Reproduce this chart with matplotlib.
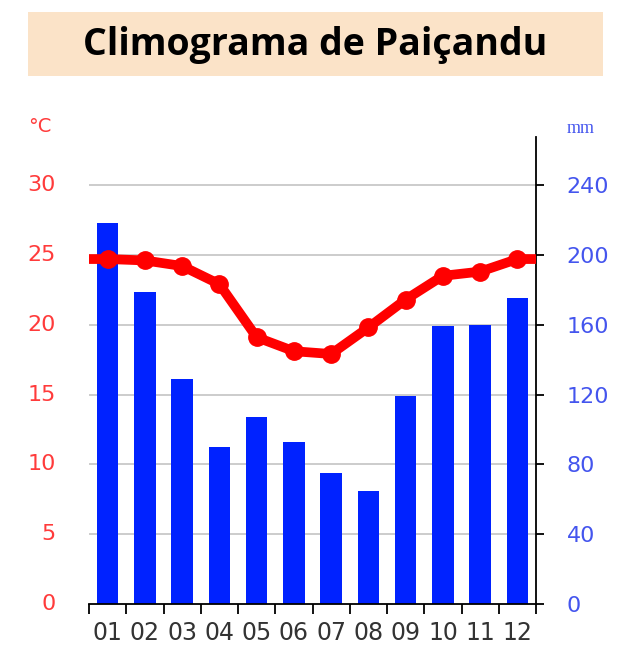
import numpy as np
import matplotlib
matplotlib.use('Agg')
from matplotlib import pyplot as plt
from matplotlib.patches import Rectangle
from matplotlib.transforms import blended_transform_factory

MONTHS = ['01', '02', '03', '04', '05', '06', '07', '08', '09', '10', '11', '12']
TEMP_C = [24.7, 24.6, 24.2, 22.9, 19.1, 18.1, 17.9, 19.8, 21.8, 23.5, 23.8, 24.7]
PRECIP_MM = [218, 179, 129, 90, 107, 93, 75, 65, 119, 159, 160, 175]
TEMP_TICKS = [0, 5, 10, 15, 20, 25, 30]
PRECIP_TICKS = [0, 40, 80, 120, 160, 200, 240]

RED = '#ff0000'
RED_TXT = '#ff3b3b'
BLUE = '#0022ff'
BLUE_TXT = '#4455ee'

fig = plt.figure(figsize=(6.3, 6.67), dpi=100)

# title box
fig.patches.append(Rectangle((0.0444, 0.886), 0.9127, 0.096, transform=fig.transFigure,
                             facecolor='#fbe3c8', edgecolor='none'))
fig.text(0.5008, 0.932, 'Climograma de Paiçandu', ha='center', va='center',
         fontsize=27, fontweight='bold', family='Open Sans', color='black')

rect = [0.1413, 0.0945, 0.7095, 0.7001]
ax2 = fig.add_axes(rect)
ax = ax2.twinx()

x = np.arange(len(MONTHS))
ytop = 33.44

# precipitation bars (bottom layer, with grid)
ax2.bar(x, PRECIP_MM, width=0.58, color=BLUE, zorder=2)
ax2.set_ylim(0, ytop * 8)
ax2.set_xlim(-0.5, len(MONTHS) - 0.5)
ax2.set_yticks(PRECIP_TICKS[1:])
ax2.yaxis.grid(True, color='#c4c4c4', linewidth=1.2)
ax2.set_axisbelow(True)
ax2.tick_params(axis='y', length=0, labelright=False, labelleft=False)

# temperature line on top
ax.set_zorder(ax2.get_zorder() + 1)
ax.patch.set_visible(False)
edge = (TEMP_C[0] + TEMP_C[-1]) / 2
tx = np.concatenate([[-0.5], x, [len(MONTHS) - 0.5]])
ty = np.concatenate([[edge], TEMP_C, [edge]])
ax.plot(tx, ty, color=RED, linewidth=7, solid_joinstyle='round', zorder=3)
ax.plot(x, TEMP_C, 'o', color=RED, markersize=12.5, zorder=4)
ax.set_ylim(0, ytop)
ax.set_xlim(-0.5, len(MONTHS) - 0.5)
ax.set_xticks([])

# right axis: precipitation labels (temp axis scaled by 8)
ax.set_yticks([v / 8 for v in PRECIP_TICKS])
ax.set_yticklabels([str(v) for v in PRECIP_TICKS], fontsize=16)
ax.tick_params(axis='y', direction='out', length=6, width=1.3, pad=16, colors='black')
for lab in ax.get_yticklabels():
    lab.set_color(BLUE_TXT)

# left axis: temperature labels, no spine
trans = blended_transform_factory(fig.transFigure, ax.transData)
for t in TEMP_TICKS:
    fig.text(0.088, t, str(t), transform=trans, ha='right', va='center',
             color=RED_TXT, fontsize=16)

for a in (ax, ax2):
    a.spines['top'].set_visible(False)
    a.spines['left'].set_visible(False)
ax2.spines['right'].set_visible(False)
ax.spines['right'].set_linewidth(1.3)
ax.spines['bottom'].set_visible(False)
ax2.spines['bottom'].set_linewidth(1.3)

# month ticks at boundaries, labels at centers
ax2.set_xticks(np.arange(-0.5, len(MONTHS)), minor=False)
ax2.set_xticklabels([])
ax2.tick_params(axis='x', which='major', direction='out', length=7, width=1.3)
ax2.set_xticks(x, minor=True)
ax2.set_xticklabels(MONTHS, minor=True, fontsize=17, color='#333333')
ax2.tick_params(axis='x', which='minor', length=0, pad=12)

fig.text(0.063, 0.810, '°C', color=RED_TXT, fontsize=14, ha='center', va='center')
fig.text(0.922, 0.808, 'mm', color=BLUE_TXT, fontsize=13, ha='center', va='center',
         family='Liberation Serif')

fig.savefig('out.png', dpi=100)
